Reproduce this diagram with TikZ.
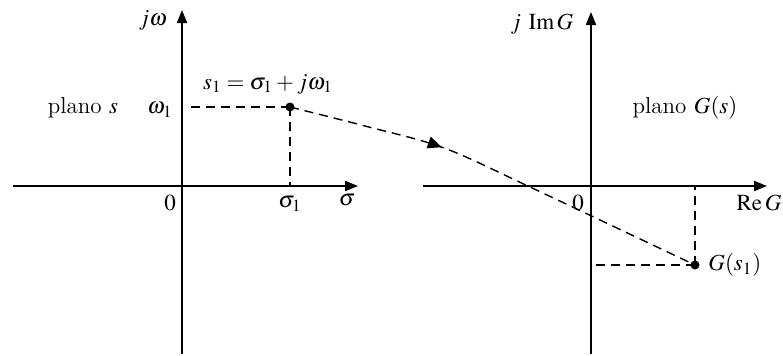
\documentclass[tikz,border=0pt]{standalone}
\usepackage{amsmath}
\usepackage{mathptmx}
\usetikzlibrary{arrows.meta,positioning,calc,decorations.markings}

\begin{document}
\begin{tikzpicture}[
            x=0.5pt, y=-0.5pt,
            every node/.style={
                font=\fontsize{11.5}{13}\selectfont,
                inner sep=1pt
            },
            axis/.style={
                line width=1pt,
                -{Triangle[length=6.5pt,width=5pt]}
            },
            proj/.style={
                dash pattern=on 4.5pt off 3pt,
                line width=0.7pt
            },
            curve/.style={
                dash pattern=on 4.5pt off 3pt,
                line width=0.7pt,
                postaction={decorate},
                decoration={markings,
                    mark=at position 0.36 with {\arrow[solid]{Triangle[length=7pt,width=6pt]}}}
            },
            dot/.style={
                circle,
                fill=black,
                inner sep=0pt,
                minimum size=4.5pt
            }
        ]

            % Frame of the picture
            \useasboundingbox (0,0) rectangle (783,355);

            % --- s plane ---
            \coordinate (os) at (182,186);
            \draw[axis] (182,354) -- (182,10);
            \draw[axis] (13,186) -- (358,186);

            \node (jw)     at (153,20)  {$j\omega$};
            \node (plns)   at (83,108)  {plano $s$};
            \node (w1)     at (160,110) {$\omega_1$};
            \node (zeros)  at (170,203) {$0$};
            \node (sig1)   at (290,204) {$\sigma_1$};
            \node (sig)    at (347,200) {$\sigma$};

            \node[dot] (s1) at (290,107) {};
            \node (s1lbl) at (268,84) {$s_1 = \sigma_1 + j\omega_1$};

            \draw[proj] (s1.center) -- (190,107);
            \draw[proj] (s1.center) -- (s1 |- os);

            % --- G(s) plane ---
            \coordinate (og) at (591,186);
            \draw[axis] (591,354) -- (591,12);
            \draw[axis] (423,186) -- (767,186);

            \node (jimg)   at (542,24)  {$j\ \mathrm{Im}\,G$};
            \node (plng)   at (685,108) {plano $G(s)$};
            \node (zerog)  at (578,203) {$0$};
            \node (reg)    at (759,203) {$\mathrm{Re}\,G$};

            \node[dot] (g1) at (695,265) {};
            \node[anchor=west] (g1lbl) at (706,265) {$G(s_1)$};

            \draw[proj] (g1.center) -- (g1 -| og);
            \draw[proj] (g1.center) -- (g1 |- og);

            % Mapping s_1 -> G(s_1)
            \draw[curve] plot[smooth, tension=0.55] coordinates
                {(s1.center) (365,126) (444,148) (530,187) (g1.center)};

        \end{tikzpicture}
\end{document}
